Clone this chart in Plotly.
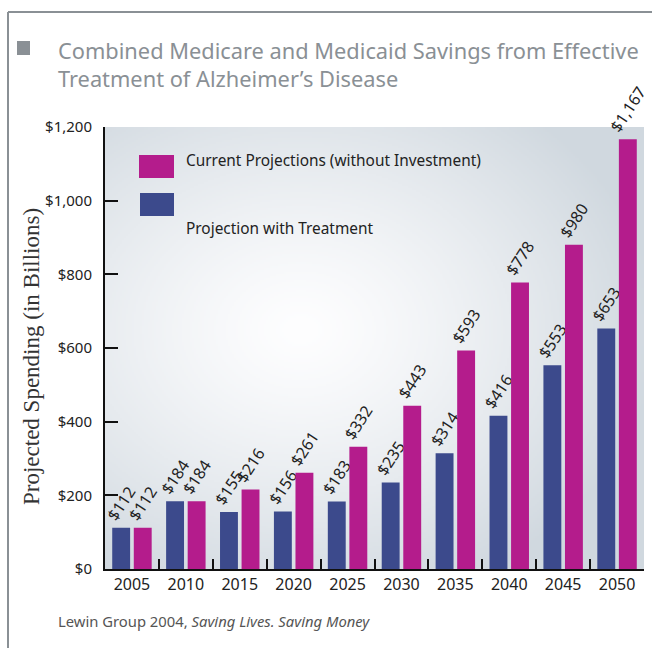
import base64, zlib, struct
import numpy as np
import plotly.graph_objects as go

# ---------------- data ----------------
years = ["2005", "2010", "2015", "2020", "2025", "2030", "2035", "2040", "2045", "2050"]
treatment = [112, 184, 155, 156, 183, 235, 314, 416, 553, 653]
current = [112, 184, 216, 261, 332, 443, 593, 778, 880, 1167]   # bar heights as drawn
treatment_labels = ["$112", "$184", "$155", "$156", "$183", "$235", "$314", "$416", "$553", "$653"]
current_labels = ["$112", "$184", "$216", "$261", "$332", "$443", "$593", "$778", "$980", "$1,167"]
y_tickvals = [0, 200, 400, 600, 800, 1000, 1200]
y_ticktext = ["$0", "$200", "$400", "$600", "$800", "$1,000", "$1,200"]

BLUE = "#3C4A8C"
MAGENTA = "#B41C8C"
FONT = "Noto Sans"

W, H = 652, 648
L, R, T, B = 105, 8, 127, 79
PW, PH = W - L - R, H - T - B


def px(xp):
    return (xp - L) / PW


def py(yp):
    return (H - B - yp) / PH


# ---------------- background gradient image ----------------
def gradient_png(w, h):
    yy, xx = np.mgrid[0:h, 0:w].astype(float)
    X = L + xx / (w - 1) * PW
    Y = T + yy / (h - 1) * PH
    cx, cy, rx, ry = 300.0, 330.0, 330.0, 260.0
    d = np.sqrt(((X - cx) / rx) ** 2 + ((Y - cy) / ry) ** 2)
    t = np.clip(d, 0, 1.1) / 1.1
    t = t ** 1.3
    edge = np.array([0xD0, 0xD8, 0xDF], float)
    white = np.array([0xFE, 0xFE, 0xFF], float)
    img = white[None, None, :] * (1 - t[..., None]) + edge[None, None, :] * t[..., None]
    img = img.astype(np.uint8)
    raw = b"".join(b"\x00" + img[i].tobytes() for i in range(h))

    def chunk(tag, data):
        c = struct.pack(">I", len(data)) + tag + data
        return c + struct.pack(">I", zlib.crc32(tag + data) & 0xFFFFFFFF)

    png = b"\x89PNG\r\n\x1a\n"
    png += chunk(b"IHDR", struct.pack(">IIBBBBB", w, h, 8, 2, 0, 0, 0))
    png += chunk(b"IDAT", zlib.compress(raw, 9))
    png += chunk(b"IEND", b"")
    return "data:image/png;base64," + base64.b64encode(png).decode()


fig = go.Figure()
fig.add_trace(go.Bar(
    x=years, y=treatment, name="Projection with Treatment",
    marker=dict(color=BLUE, line=dict(width=0)),
    text=treatment_labels, textposition="outside", textangle=-57,
    constraintext="none", cliponaxis=False,
    textfont=dict(family=FONT, size=16, color="#222222"),
    showlegend=False,
))
fig.add_trace(go.Bar(
    x=years, y=current, name="Current Projections (without Investment)",
    marker=dict(color=MAGENTA, line=dict(width=0)),
    text=current_labels, textposition="outside", textangle=-57,
    constraintext="none", cliponaxis=False,
    textfont=dict(family=FONT, size=16, color="#222222"),
    showlegend=False,
))

shapes = [
    dict(type="line", xref="paper", yref="paper", x0=px(8), x1=px(652), y0=py(12), y1=py(12),
         line=dict(color="#8A9095", width=2)),
    dict(type="line", xref="paper", yref="paper", x0=px(8), x1=px(8), y0=py(12), y1=py(648),
         line=dict(color="#8A9095", width=2)),
    dict(type="rect", xref="paper", yref="paper", x0=px(17), x1=px(30), y0=py(41), y1=py(55),
         fillcolor="#8A9095", line=dict(width=0)),
    dict(type="rect", xref="paper", yref="paper", x0=px(139), x1=px(174), y0=py(155), y1=py(178),
         fillcolor=MAGENTA, line=dict(width=0)),
    dict(type="rect", xref="paper", yref="paper", x0=px(140), x1=px(174), y0=py(193), y1=py(216),
         fillcolor=BLUE, line=dict(width=0)),
]

annotations = [
    dict(text="Combined Medicare and Medicaid Savings from Effective<br>Treatment of Alzheimer’s Disease",
         xref="paper", yref="paper", x=px(56), y=py(64), xanchor="left", yanchor="middle",
         align="left", showarrow=False,
         font=dict(family=FONT, size=21.8, color="#8A9095")),
    dict(text="Projected Spending (in Billions)", textangle=-90,
         xref="paper", yref="paper", x=px(31), y=py(357), xanchor="center", yanchor="middle",
         showarrow=False, font=dict(family="Liberation Serif", size=23, color="#333333")),
    dict(text="Current Projections (without Investment)",
         xref="paper", yref="paper", x=px(184), y=py(161), xanchor="left", yanchor="middle",
         showarrow=False, font=dict(family=FONT, size=15.4, color="#222222")),
    dict(text="Projection with Treatment",
         xref="paper", yref="paper", x=px(184), y=py(228), xanchor="left", yanchor="middle",
         showarrow=False, font=dict(family=FONT, size=15.4, color="#222222")),
    dict(text="Lewin Group 2004, <i>Saving Lives. Saving Money</i>",
         xref="paper", yref="paper", x=px(56), y=py(621), xanchor="left", yanchor="middle",
         showarrow=False, font=dict(family=FONT, size=14.8, color="#555555")),
]

fig.update_layout(
    width=W, height=H,
    margin=dict(l=L, r=R, t=T, b=B),
    paper_bgcolor="white",
    plot_bgcolor="rgba(0,0,0,0)",
    barmode="group", bargap=0.2, bargroupgap=0.17,
    shapes=shapes, annotations=annotations,
    images=[dict(source=gradient_png(270, 221), xref="paper", yref="paper",
                 x=0, y=1, sizex=1, sizey=1, sizing="stretch", layer="below",
                 xanchor="left", yanchor="top")],
    xaxis=dict(
        type="category", range=[-0.5, 9.5],
        showline=True, linecolor="#111111", linewidth=2,
        ticks="inside", tickson="boundaries", ticklen=10, tickwidth=2, tickcolor="#111111",
        showgrid=False, zeroline=False,
        tickfont=dict(family=FONT, size=16, color="#222222"),
    ),
    yaxis=dict(
        range=[0, 1200], tickvals=y_tickvals, ticktext=y_ticktext,
        showline=True, linecolor="#111111", linewidth=2,
        ticks="inside", ticklen=13, tickwidth=2, tickcolor="#111111",
        ticklabelstandoff=8,
        showgrid=False, zeroline=False,
        tickfont=dict(family=FONT, size=15, color="#222222"),
    ),
)

fig.write_html("out.html", config={"displayModeBar": False},
               post_script="document.body.style.margin='0';document.body.style.overflow='hidden';")
